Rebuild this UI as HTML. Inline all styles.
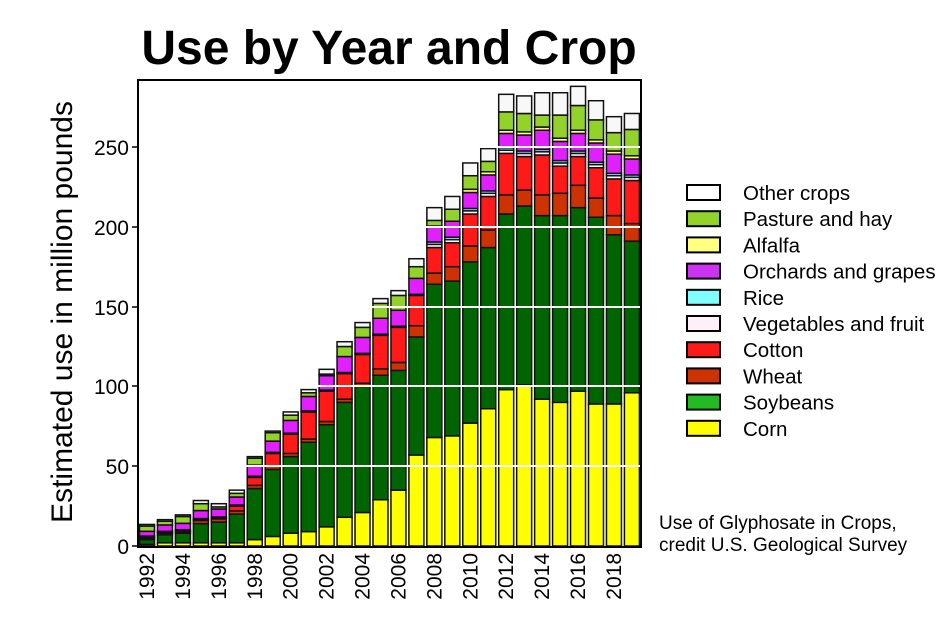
<!DOCTYPE html>
<html><head><meta charset="utf-8"><style>
body{margin:0;background:#fff;width:950px;height:618px;overflow:hidden}
svg{font-family:"Liberation Sans",sans-serif}
</style></head><body>
<svg id="s" width="950" height="618" xmlns="http://www.w3.org/2000/svg">
<text x="389" y="64" font-size="48" font-weight="bold" text-anchor="middle">Use by Year and Crop</text>
<text transform="translate(72,312) rotate(-90)" font-size="30" text-anchor="middle">Estimated use in million pounds</text>
<g id="bars"></g>
<rect x="138" y="80" width="503" height="467" fill="none" stroke="#000" stroke-width="2"/>
<g font-size="21" text-anchor="end">
<text x="129" y="554">0</text><text x="129" y="474">50</text><text x="129" y="394">100</text>
<text x="129" y="315">150</text><text x="129" y="235">200</text><text x="129" y="155">250</text>
</g>
<g stroke="#000" stroke-width="1.5">
<line x1="132" y1="546" x2="138" y2="546"/><line x1="132" y1="466" x2="138" y2="466"/><line x1="132" y1="386" x2="138" y2="386"/>
<line x1="132" y1="307" x2="138" y2="307"/><line x1="132" y1="227" x2="138" y2="227"/><line x1="132" y1="147" x2="138" y2="147"/>
</g>
<g id="xl" font-size="21"></g>
<g id="leg" font-size="20.5"></g>
<text x="659" y="529" font-size="19">Use of Glyphosate in Crops,</text>
<text x="659" y="551" font-size="19">credit U.S. Geological Survey</text>
</svg>
<script>
const NS="http://www.w3.org/2000/svg";
function el(p,t,a,txt){const e=document.createElementNS(NS,t);for(const k in a)e.setAttribute(k,a[k]);if(txt)e.textContent=txt;p.appendChild(e);return e;}
const total=[13,16,19,26,26,35,56,72,84,98,110,128,140,155,160,180,212,219,240,249,283,282,284,284,288,279,269,271];
const corn=[1,2,2,2,2,2,4,6,8,9,12,18,21,29,35,57,68,69,77,86,98,101,92,90,97,89,89,96];
const soyTop=[4,7,8,14,15,20,36,48,56,65,76,90,100,107,110,131,164,166,178,187,208,213,207,207,212,206,195,191];
const wheat=[1,1,1,2,2,2,2,2,2,2,2,2,2,4,5,7,7,9,10,11,12,10,13,14,14,12,12,11];
const cotTop=[5,8,9,14,17,25,43,58,70,84,97,108,120,132,137,157,187,190,208,219,246,244,245,238,244,237,230,229];
const orch=[3,4,4,5,5,5,7,7,8,9,9,10,10,10,10,10,10,10,10,10,9,10,12,12,11,12,12,10];
const other=[1,1,1,2,2,2,1,1,2,2,3,3,3,3,3,5,8,8,8,8,11,11,14,14,12,12,10,10];
const cols=["#ffff00","#006400","#cc3300","#ff1a1a","#fff0f8","#80ffff","#e020ff","#ffff80","#92d22a","#f8f8f8"];
const g=document.getElementById("bars");
const Y=v=>546-v*1.596;
for(let i=0;i<28;i++){
 const late=i>=16;
 const veg=late?2:0.7, rice=late?1.5:0, alf=i>=18?2:0;
 const cot=Math.max(0.5,cotTop[i]-soyTop[i]-wheat[i]);
 const base=cotTop[i]+veg+rice+orch[i]+alf;
 const past=Math.max(1,total[i]-other[i]-base);
 const th=[corn[i],soyTop[i]-corn[i],wheat[i],cot,veg,rice,orch[i],alf,past,other[i]];
 let c=0;const x=139.5+i*17.96;
 th.forEach((t,k)=>{if(t<=0)return;el(g,"rect",{x:x,y:Y(c+t),width:15,height:t*1.596,fill:cols[k],stroke:"#111","stroke-width":1.5});c+=t;});
}
[466,386,307,227,147].forEach(y=>el(g,"line",{x1:139,x2:640,y1:y,y2:y,stroke:"#fff","stroke-width":2}));
const xl=document.getElementById("xl");
for(let i=0;i<28;i+=2){const x=147+i*17.96+7;el(xl,"text",{transform:`translate(${x},553) rotate(-90)`,"text-anchor":"end"},String(1992+i));}
const names=["Other crops","Pasture and hay","Alfalfa","Orchards and grapes","Rice","Vegetables and fruit","Cotton","Wheat","Soybeans","Corn"];
const lc=["#ffffff","#92d22a","#ffff80","#cc33ee","#80ffff","#fff0f8","#ff1a1a","#cc3300","#22bb22","#ffff00"];
const lg=document.getElementById("leg");
names.forEach((n,k)=>{const y=185+k*26.2;el(lg,"rect",{x:687,y:y,width:33,height:15,fill:lc[k],stroke:"#000","stroke-width":2});el(lg,"text",{x:743,y:y+15},n);});
</script>
</body></html>
